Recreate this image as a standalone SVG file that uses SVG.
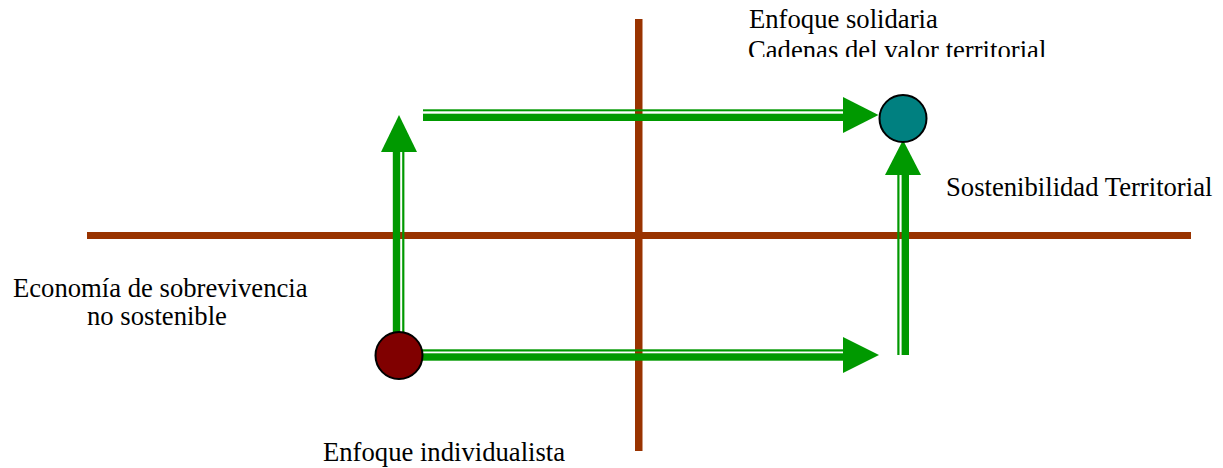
<svg xmlns="http://www.w3.org/2000/svg" width="1223" height="468" viewBox="0 0 1223 468">
<style>
.axis{fill:#993300}
.g{fill:#009900}
.lbl{font-family:"Liberation Serif","Times New Roman",serif;font-size:26.67px;fill:#000}
.node{stroke:#000;stroke-width:2}
</style>
<defs>
<clipPath id="clipTop"><rect x="0" y="0" width="1223" height="57"/></clipPath>
</defs>
<g id="axes">
<rect class="axis" x="87" y="232" width="1104" height="7"/>
<rect class="axis" x="635" y="19" width="7.5" height="432"/>
</g>
<g id="connectors">
<g id="arrow-top">
<rect class="g" x="423" y="109.3" width="422" height="2"/>
<rect class="g" x="423" y="113.7" width="422" height="7.3"/>
<polygon class="g" points="843,97 878.5,115 843,133"/>
</g>
<g id="arrow-left">
<rect class="g" x="392.8" y="150" width="7.4" height="205"/>
<rect class="g" x="402.2" y="150" width="2.2" height="205"/>
<polygon class="g" points="381,152 399,115 417,152"/>
</g>
<g id="arrow-bottom">
<rect class="g" x="399" y="349.3" width="446" height="2.2"/>
<rect class="g" x="399" y="353.3" width="446" height="7.4"/>
<polygon class="g" points="843,337 879,355 843,373"/>
</g>
<g id="arrow-right">
<rect class="g" x="897.3" y="173" width="2.2" height="182"/>
<rect class="g" x="901.6" y="173" width="7.4" height="182"/>
<polygon class="g" points="885,175 903,140 921,175"/>
</g>
</g>
<g id="node-solidaria">
<circle class="node" cx="903" cy="118.5" r="23.5" fill="#008080"/>
</g>
<g id="node-individualista">
<circle class="node" cx="399" cy="355.5" r="23.5" fill="#800000"/>
</g>
<g id="labels">
<text class="lbl" x="749" y="27.5">Enfoque solidaria</text>
<text class="lbl" x="748" y="59" clip-path="url(#clipTop)">Cadenas del valor territorial</text>
<text class="lbl" x="946" y="196">Sostenibilidad Territorial</text>
<text class="lbl" x="13" y="297">Economía de sobrevivencia</text>
<text class="lbl" x="87" y="324.5">no sostenible</text>
<text class="lbl" x="323" y="461">Enfoque individualista</text>
</g>
</svg>
